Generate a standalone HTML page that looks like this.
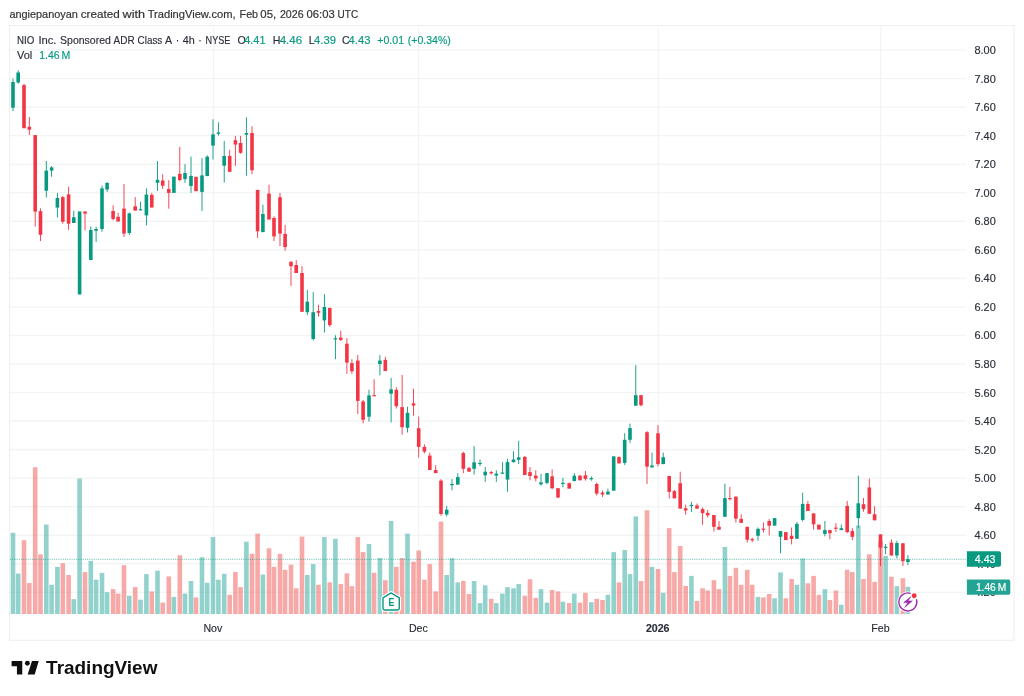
<!DOCTYPE html>
<html><head><meta charset="utf-8">
<style>
html,body{margin:0;padding:0;background:#fff;}
body{width:1024px;height:696px;overflow:hidden;position:relative;font-family:"Liberation Sans",Arial,sans-serif;}
svg{position:absolute;left:0;top:0;}
text{font-family:"Liberation Sans",Arial,sans-serif;}
</style></head><body>
<svg width="1024" height="696" viewBox="0 0 1024 696">
<rect x="0" y="0" width="1024" height="696" fill="#fff"/>
<g font-size="11.8" fill="#333" stroke="#333" stroke-width="0.2">
<text x="9.4" y="18.4" textLength="68.4" lengthAdjust="spacingAndGlyphs">angiepanoyan</text>
<text x="80.7" y="18.4" textLength="39.0" lengthAdjust="spacingAndGlyphs">created</text>
<text x="122.6" y="18.4" textLength="22.5" lengthAdjust="spacingAndGlyphs">with</text>
<text x="147.7" y="18.4" textLength="87.8" lengthAdjust="spacingAndGlyphs">TradingView.com,</text>
<text x="239.6" y="18.4" textLength="18.5" lengthAdjust="spacingAndGlyphs">Feb</text>
<text x="260.3" y="18.4" textLength="15.9" lengthAdjust="spacingAndGlyphs">05,</text>
<text x="279.9" y="18.4" textLength="23.7" lengthAdjust="spacingAndGlyphs">2026</text>
<text x="306.5" y="18.4" textLength="28.2" lengthAdjust="spacingAndGlyphs">06:03</text>
<text x="337.6" y="18.4" textLength="20.5" lengthAdjust="spacingAndGlyphs">UTC</text>
</g>
<rect x="9.5" y="25.5" width="1004.5" height="614.8" fill="#fff" stroke="#eeeeee" stroke-width="1.1"/>
<rect x="10" y="49.40" width="956" height="1.3" fill="#f2f4f4"/>
<rect x="10" y="77.94" width="956" height="1.3" fill="#f2f4f4"/>
<rect x="10" y="106.48" width="956" height="1.3" fill="#f2f4f4"/>
<rect x="10" y="135.02" width="956" height="1.3" fill="#f2f4f4"/>
<rect x="10" y="163.56" width="956" height="1.3" fill="#f2f4f4"/>
<rect x="10" y="192.10" width="956" height="1.3" fill="#f2f4f4"/>
<rect x="10" y="220.64" width="956" height="1.3" fill="#f2f4f4"/>
<rect x="10" y="249.18" width="956" height="1.3" fill="#f2f4f4"/>
<rect x="10" y="277.72" width="956" height="1.3" fill="#f2f4f4"/>
<rect x="10" y="306.26" width="956" height="1.3" fill="#f2f4f4"/>
<rect x="10" y="334.80" width="956" height="1.3" fill="#f2f4f4"/>
<rect x="10" y="363.34" width="956" height="1.3" fill="#f2f4f4"/>
<rect x="10" y="391.88" width="956" height="1.3" fill="#f2f4f4"/>
<rect x="10" y="420.42" width="956" height="1.3" fill="#f2f4f4"/>
<rect x="10" y="448.96" width="956" height="1.3" fill="#f2f4f4"/>
<rect x="10" y="477.50" width="956" height="1.3" fill="#f2f4f4"/>
<rect x="10" y="506.04" width="956" height="1.3" fill="#f2f4f4"/>
<rect x="10" y="534.58" width="956" height="1.3" fill="#f2f4f4"/>
<rect x="10" y="563.12" width="956" height="1.3" fill="#f2f4f4"/>
<rect x="10" y="591.66" width="956" height="1.3" fill="#f2f4f4"/>
<rect x="213.00" y="25.5" width="1.2" height="589.5" fill="#f2f4f4"/>
<rect x="418.00" y="25.5" width="1.2" height="589.5" fill="#f2f4f4"/>
<rect x="657.60" y="25.5" width="1.2" height="589.5" fill="#f2f4f4"/>
<rect x="880.10" y="25.5" width="1.2" height="589.5" fill="#f2f4f4"/>
<rect x="10.70" y="532.8" width="4.6" height="81.2" fill="rgba(38,166,154,0.5)"/>
<rect x="15.90" y="573.6" width="4.6" height="40.4" fill="rgba(38,166,154,0.5)"/>
<rect x="21.70" y="540.2" width="4.6" height="73.8" fill="rgba(239,83,80,0.5)"/>
<rect x="27.00" y="583.1" width="4.6" height="30.9" fill="rgba(239,83,80,0.5)"/>
<rect x="32.90" y="467.3" width="4.6" height="146.7" fill="rgba(239,83,80,0.5)"/>
<rect x="38.20" y="554.3" width="4.6" height="59.7" fill="rgba(239,83,80,0.5)"/>
<rect x="44.00" y="524.5" width="4.6" height="89.5" fill="rgba(38,166,154,0.5)"/>
<rect x="49.30" y="584.8" width="4.6" height="29.2" fill="rgba(38,166,154,0.5)"/>
<rect x="55.10" y="566.9" width="4.6" height="47.1" fill="rgba(38,166,154,0.5)"/>
<rect x="60.50" y="563.3" width="4.6" height="50.7" fill="rgba(239,83,80,0.5)"/>
<rect x="66.30" y="575.0" width="4.6" height="39.0" fill="rgba(239,83,80,0.5)"/>
<rect x="71.50" y="599.1" width="4.6" height="14.9" fill="rgba(38,166,154,0.5)"/>
<rect x="77.30" y="478.6" width="4.6" height="135.4" fill="rgba(38,166,154,0.5)"/>
<rect x="82.70" y="572.1" width="4.6" height="41.9" fill="rgba(239,83,80,0.5)"/>
<rect x="88.50" y="560.9" width="4.6" height="53.1" fill="rgba(38,166,154,0.5)"/>
<rect x="93.80" y="579.7" width="4.6" height="34.3" fill="rgba(38,166,154,0.5)"/>
<rect x="99.70" y="572.9" width="4.6" height="41.1" fill="rgba(38,166,154,0.5)"/>
<rect x="104.80" y="592.2" width="4.6" height="21.8" fill="rgba(38,166,154,0.5)"/>
<rect x="110.80" y="589.1" width="4.6" height="24.9" fill="rgba(239,83,80,0.5)"/>
<rect x="115.80" y="593.6" width="4.6" height="20.4" fill="rgba(239,83,80,0.5)"/>
<rect x="121.70" y="565.2" width="4.6" height="48.8" fill="rgba(239,83,80,0.5)"/>
<rect x="127.00" y="595.7" width="4.6" height="18.3" fill="rgba(38,166,154,0.5)"/>
<rect x="132.90" y="587.1" width="4.6" height="26.9" fill="rgba(239,83,80,0.5)"/>
<rect x="138.20" y="599.7" width="4.6" height="14.3" fill="rgba(38,166,154,0.5)"/>
<rect x="144.10" y="574.1" width="4.6" height="39.9" fill="rgba(38,166,154,0.5)"/>
<rect x="149.50" y="591.4" width="4.6" height="22.6" fill="rgba(239,83,80,0.5)"/>
<rect x="155.20" y="570.7" width="4.6" height="43.3" fill="rgba(38,166,154,0.5)"/>
<rect x="160.40" y="602.6" width="4.6" height="11.4" fill="rgba(239,83,80,0.5)"/>
<rect x="166.50" y="576.4" width="4.6" height="37.6" fill="rgba(239,83,80,0.5)"/>
<rect x="171.60" y="596.9" width="4.6" height="17.1" fill="rgba(38,166,154,0.5)"/>
<rect x="177.50" y="555.2" width="4.6" height="58.8" fill="rgba(239,83,80,0.5)"/>
<rect x="182.70" y="593.6" width="4.6" height="20.4" fill="rgba(38,166,154,0.5)"/>
<rect x="188.70" y="581.0" width="4.6" height="33.0" fill="rgba(38,166,154,0.5)"/>
<rect x="193.70" y="597.4" width="4.6" height="16.6" fill="rgba(239,83,80,0.5)"/>
<rect x="199.70" y="557.2" width="4.6" height="56.8" fill="rgba(38,166,154,0.5)"/>
<rect x="204.90" y="582.8" width="4.6" height="31.2" fill="rgba(38,166,154,0.5)"/>
<rect x="210.70" y="537.1" width="4.6" height="76.9" fill="rgba(38,166,154,0.5)"/>
<rect x="216.10" y="579.7" width="4.6" height="34.3" fill="rgba(38,166,154,0.5)"/>
<rect x="221.90" y="573.8" width="4.6" height="40.2" fill="rgba(38,166,154,0.5)"/>
<rect x="227.40" y="594.8" width="4.6" height="19.2" fill="rgba(239,83,80,0.5)"/>
<rect x="233.10" y="572.1" width="4.6" height="41.9" fill="rgba(239,83,80,0.5)"/>
<rect x="238.30" y="587.1" width="4.6" height="26.9" fill="rgba(239,83,80,0.5)"/>
<rect x="244.10" y="541.7" width="4.6" height="72.3" fill="rgba(38,166,154,0.5)"/>
<rect x="249.70" y="553.8" width="4.6" height="60.2" fill="rgba(239,83,80,0.5)"/>
<rect x="255.30" y="533.6" width="4.6" height="80.4" fill="rgba(239,83,80,0.5)"/>
<rect x="260.60" y="574.5" width="4.6" height="39.5" fill="rgba(38,166,154,0.5)"/>
<rect x="266.70" y="548.3" width="4.6" height="65.7" fill="rgba(239,83,80,0.5)"/>
<rect x="271.70" y="566.9" width="4.6" height="47.1" fill="rgba(239,83,80,0.5)"/>
<rect x="277.70" y="553.8" width="4.6" height="60.2" fill="rgba(239,83,80,0.5)"/>
<rect x="282.80" y="569.8" width="4.6" height="44.2" fill="rgba(239,83,80,0.5)"/>
<rect x="288.70" y="564.7" width="4.6" height="49.3" fill="rgba(239,83,80,0.5)"/>
<rect x="293.90" y="588.3" width="4.6" height="25.7" fill="rgba(239,83,80,0.5)"/>
<rect x="299.70" y="536.6" width="4.6" height="77.4" fill="rgba(239,83,80,0.5)"/>
<rect x="305.00" y="575.0" width="4.6" height="39.0" fill="rgba(38,166,154,0.5)"/>
<rect x="310.90" y="564.1" width="4.6" height="49.9" fill="rgba(38,166,154,0.5)"/>
<rect x="316.20" y="584.8" width="4.6" height="29.2" fill="rgba(239,83,80,0.5)"/>
<rect x="322.10" y="537.1" width="4.6" height="76.9" fill="rgba(38,166,154,0.5)"/>
<rect x="327.50" y="582.4" width="4.6" height="31.6" fill="rgba(239,83,80,0.5)"/>
<rect x="333.10" y="538.8" width="4.6" height="75.2" fill="rgba(38,166,154,0.5)"/>
<rect x="338.50" y="584.1" width="4.6" height="29.9" fill="rgba(239,83,80,0.5)"/>
<rect x="344.60" y="573.3" width="4.6" height="40.7" fill="rgba(239,83,80,0.5)"/>
<rect x="349.60" y="586.2" width="4.6" height="27.8" fill="rgba(239,83,80,0.5)"/>
<rect x="355.50" y="537.1" width="4.6" height="76.9" fill="rgba(239,83,80,0.5)"/>
<rect x="360.80" y="552.1" width="4.6" height="61.9" fill="rgba(239,83,80,0.5)"/>
<rect x="366.70" y="544.0" width="4.6" height="70.0" fill="rgba(38,166,154,0.5)"/>
<rect x="371.80" y="572.8" width="4.6" height="41.2" fill="rgba(239,83,80,0.5)"/>
<rect x="377.60" y="558.1" width="4.6" height="55.9" fill="rgba(38,166,154,0.5)"/>
<rect x="383.00" y="580.2" width="4.6" height="33.8" fill="rgba(239,83,80,0.5)"/>
<rect x="388.80" y="521.0" width="4.6" height="93.0" fill="rgba(38,166,154,0.5)"/>
<rect x="394.00" y="566.9" width="4.6" height="47.1" fill="rgba(239,83,80,0.5)"/>
<rect x="399.80" y="558.1" width="4.6" height="55.9" fill="rgba(239,83,80,0.5)"/>
<rect x="405.20" y="533.6" width="4.6" height="80.4" fill="rgba(38,166,154,0.5)"/>
<rect x="411.20" y="561.7" width="4.6" height="52.3" fill="rgba(239,83,80,0.5)"/>
<rect x="416.40" y="550.5" width="4.6" height="63.5" fill="rgba(239,83,80,0.5)"/>
<rect x="422.10" y="579.7" width="4.6" height="34.3" fill="rgba(239,83,80,0.5)"/>
<rect x="427.50" y="564.1" width="4.6" height="49.9" fill="rgba(239,83,80,0.5)"/>
<rect x="433.40" y="591.4" width="4.6" height="22.6" fill="rgba(239,83,80,0.5)"/>
<rect x="438.70" y="521.6" width="4.6" height="92.4" fill="rgba(239,83,80,0.5)"/>
<rect x="444.40" y="575.0" width="4.6" height="39.0" fill="rgba(38,166,154,0.5)"/>
<rect x="449.70" y="558.3" width="4.6" height="55.7" fill="rgba(38,166,154,0.5)"/>
<rect x="455.50" y="582.4" width="4.6" height="31.6" fill="rgba(38,166,154,0.5)"/>
<rect x="461.00" y="581.0" width="4.6" height="33.0" fill="rgba(239,83,80,0.5)"/>
<rect x="466.70" y="594.0" width="4.6" height="20.0" fill="rgba(239,83,80,0.5)"/>
<rect x="471.80" y="581.0" width="4.6" height="33.0" fill="rgba(38,166,154,0.5)"/>
<rect x="477.70" y="603.1" width="4.6" height="10.9" fill="rgba(38,166,154,0.5)"/>
<rect x="482.90" y="585.3" width="4.6" height="28.7" fill="rgba(38,166,154,0.5)"/>
<rect x="488.90" y="598.8" width="4.6" height="15.2" fill="rgba(239,83,80,0.5)"/>
<rect x="494.00" y="603.1" width="4.6" height="10.9" fill="rgba(38,166,154,0.5)"/>
<rect x="500.10" y="593.6" width="4.6" height="20.4" fill="rgba(38,166,154,0.5)"/>
<rect x="505.20" y="587.1" width="4.6" height="26.9" fill="rgba(38,166,154,0.5)"/>
<rect x="511.20" y="588.3" width="4.6" height="25.7" fill="rgba(38,166,154,0.5)"/>
<rect x="516.40" y="584.1" width="4.6" height="29.9" fill="rgba(38,166,154,0.5)"/>
<rect x="522.50" y="595.7" width="4.6" height="18.3" fill="rgba(239,83,80,0.5)"/>
<rect x="527.70" y="579.3" width="4.6" height="34.7" fill="rgba(239,83,80,0.5)"/>
<rect x="533.50" y="597.9" width="4.6" height="16.1" fill="rgba(239,83,80,0.5)"/>
<rect x="538.70" y="589.1" width="4.6" height="24.9" fill="rgba(38,166,154,0.5)"/>
<rect x="544.70" y="602.6" width="4.6" height="11.4" fill="rgba(38,166,154,0.5)"/>
<rect x="549.80" y="590.0" width="4.6" height="24.0" fill="rgba(239,83,80,0.5)"/>
<rect x="555.70" y="591.4" width="4.6" height="22.6" fill="rgba(239,83,80,0.5)"/>
<rect x="560.60" y="601.7" width="4.6" height="12.3" fill="rgba(38,166,154,0.5)"/>
<rect x="566.90" y="603.1" width="4.6" height="10.9" fill="rgba(239,83,80,0.5)"/>
<rect x="572.00" y="593.6" width="4.6" height="20.4" fill="rgba(38,166,154,0.5)"/>
<rect x="577.70" y="602.6" width="4.6" height="11.4" fill="rgba(239,83,80,0.5)"/>
<rect x="583.10" y="592.8" width="4.6" height="21.2" fill="rgba(239,83,80,0.5)"/>
<rect x="589.00" y="602.2" width="4.6" height="11.8" fill="rgba(38,166,154,0.5)"/>
<rect x="594.40" y="598.8" width="4.6" height="15.2" fill="rgba(239,83,80,0.5)"/>
<rect x="600.20" y="600.0" width="4.6" height="14.0" fill="rgba(239,83,80,0.5)"/>
<rect x="605.60" y="594.8" width="4.6" height="19.2" fill="rgba(38,166,154,0.5)"/>
<rect x="611.40" y="552.1" width="4.6" height="61.9" fill="rgba(38,166,154,0.5)"/>
<rect x="616.70" y="582.4" width="4.6" height="31.6" fill="rgba(239,83,80,0.5)"/>
<rect x="622.40" y="550.0" width="4.6" height="64.0" fill="rgba(38,166,154,0.5)"/>
<rect x="627.70" y="574.1" width="4.6" height="39.9" fill="rgba(38,166,154,0.5)"/>
<rect x="633.50" y="516.4" width="4.6" height="97.6" fill="rgba(38,166,154,0.5)"/>
<rect x="638.70" y="581.0" width="4.6" height="33.0" fill="rgba(239,83,80,0.5)"/>
<rect x="644.70" y="510.3" width="4.6" height="103.7" fill="rgba(239,83,80,0.5)"/>
<rect x="649.70" y="566.9" width="4.6" height="47.1" fill="rgba(38,166,154,0.5)"/>
<rect x="655.70" y="569.0" width="4.6" height="45.0" fill="rgba(239,83,80,0.5)"/>
<rect x="660.90" y="592.8" width="4.6" height="21.2" fill="rgba(38,166,154,0.5)"/>
<rect x="666.90" y="528.1" width="4.6" height="85.9" fill="rgba(239,83,80,0.5)"/>
<rect x="672.10" y="572.1" width="4.6" height="41.9" fill="rgba(239,83,80,0.5)"/>
<rect x="677.90" y="546.0" width="4.6" height="68.0" fill="rgba(239,83,80,0.5)"/>
<rect x="683.40" y="585.9" width="4.6" height="28.1" fill="rgba(239,83,80,0.5)"/>
<rect x="689.10" y="575.9" width="4.6" height="38.1" fill="rgba(38,166,154,0.5)"/>
<rect x="694.70" y="600.9" width="4.6" height="13.1" fill="rgba(239,83,80,0.5)"/>
<rect x="700.30" y="588.3" width="4.6" height="25.7" fill="rgba(239,83,80,0.5)"/>
<rect x="705.40" y="590.5" width="4.6" height="23.5" fill="rgba(239,83,80,0.5)"/>
<rect x="711.60" y="580.2" width="4.6" height="33.8" fill="rgba(239,83,80,0.5)"/>
<rect x="716.70" y="589.1" width="4.6" height="24.9" fill="rgba(239,83,80,0.5)"/>
<rect x="722.60" y="546.9" width="4.6" height="67.1" fill="rgba(38,166,154,0.5)"/>
<rect x="727.60" y="575.9" width="4.6" height="38.1" fill="rgba(239,83,80,0.5)"/>
<rect x="733.60" y="567.8" width="4.6" height="46.2" fill="rgba(239,83,80,0.5)"/>
<rect x="738.90" y="584.8" width="4.6" height="29.2" fill="rgba(239,83,80,0.5)"/>
<rect x="744.90" y="569.8" width="4.6" height="44.2" fill="rgba(239,83,80,0.5)"/>
<rect x="749.90" y="584.8" width="4.6" height="29.2" fill="rgba(239,83,80,0.5)"/>
<rect x="755.70" y="596.9" width="4.6" height="17.1" fill="rgba(38,166,154,0.5)"/>
<rect x="761.10" y="597.4" width="4.6" height="16.6" fill="rgba(239,83,80,0.5)"/>
<rect x="766.90" y="594.0" width="4.6" height="20.0" fill="rgba(239,83,80,0.5)"/>
<rect x="772.30" y="598.3" width="4.6" height="15.7" fill="rgba(38,166,154,0.5)"/>
<rect x="778.20" y="572.4" width="4.6" height="41.6" fill="rgba(38,166,154,0.5)"/>
<rect x="783.50" y="598.3" width="4.6" height="15.7" fill="rgba(239,83,80,0.5)"/>
<rect x="789.30" y="579.0" width="4.6" height="35.0" fill="rgba(239,83,80,0.5)"/>
<rect x="794.60" y="584.8" width="4.6" height="29.2" fill="rgba(38,166,154,0.5)"/>
<rect x="800.40" y="558.5" width="4.6" height="55.5" fill="rgba(38,166,154,0.5)"/>
<rect x="805.60" y="583.3" width="4.6" height="30.7" fill="rgba(239,83,80,0.5)"/>
<rect x="811.30" y="575.9" width="4.6" height="38.1" fill="rgba(239,83,80,0.5)"/>
<rect x="816.60" y="594.8" width="4.6" height="19.2" fill="rgba(239,83,80,0.5)"/>
<rect x="822.60" y="589.1" width="4.6" height="24.9" fill="rgba(38,166,154,0.5)"/>
<rect x="827.60" y="600.0" width="4.6" height="14.0" fill="rgba(239,83,80,0.5)"/>
<rect x="833.60" y="590.5" width="4.6" height="23.5" fill="rgba(239,83,80,0.5)"/>
<rect x="839.00" y="604.8" width="4.6" height="9.2" fill="rgba(38,166,154,0.5)"/>
<rect x="844.90" y="569.8" width="4.6" height="44.2" fill="rgba(239,83,80,0.5)"/>
<rect x="850.00" y="572.1" width="4.6" height="41.9" fill="rgba(239,83,80,0.5)"/>
<rect x="856.00" y="525.5" width="4.6" height="88.5" fill="rgba(38,166,154,0.5)"/>
<rect x="861.20" y="579.0" width="4.6" height="35.0" fill="rgba(239,83,80,0.5)"/>
<rect x="867.00" y="554.3" width="4.6" height="59.7" fill="rgba(239,83,80,0.5)"/>
<rect x="872.30" y="581.9" width="4.6" height="32.1" fill="rgba(239,83,80,0.5)"/>
<rect x="878.20" y="541.5" width="4.6" height="72.5" fill="rgba(239,83,80,0.5)"/>
<rect x="883.30" y="555.9" width="4.6" height="58.1" fill="rgba(38,166,154,0.5)"/>
<rect x="889.10" y="576.8" width="4.6" height="37.2" fill="rgba(239,83,80,0.5)"/>
<rect x="894.60" y="586.1" width="4.6" height="27.9" fill="rgba(38,166,154,0.5)"/>
<rect x="900.60" y="578.2" width="4.6" height="35.8" fill="rgba(239,83,80,0.5)"/>
<rect x="905.60" y="586.8" width="4.6" height="27.2" fill="rgba(38,166,154,0.5)"/>
<line x1="10" y1="559.3" x2="966" y2="559.3" stroke="#089981" stroke-opacity="0.6" stroke-width="1" stroke-dasharray="1.1 1.1"/>
<rect x="12.55" y="78.6" width="0.9" height="32.4" fill="#089981"/>
<rect x="11.20" y="82.0" width="3.6" height="25.7" fill="#089981"/>
<rect x="17.75" y="70.3" width="0.9" height="13.4" fill="#089981"/>
<rect x="16.40" y="72.5" width="3.6" height="10.0" fill="#089981"/>
<rect x="23.55" y="83.7" width="0.9" height="44.5" fill="#f23645"/>
<rect x="22.20" y="85.1" width="3.6" height="43.1" fill="#f23645"/>
<rect x="28.85" y="117.0" width="0.9" height="18.0" fill="#f23645"/>
<rect x="27.50" y="126.8" width="3.6" height="2.9" fill="#f23645"/>
<rect x="34.75" y="135.0" width="0.9" height="91.6" fill="#f23645"/>
<rect x="33.40" y="135.1" width="3.6" height="76.5" fill="#f23645"/>
<rect x="40.05" y="208.4" width="0.9" height="32.6" fill="#f23645"/>
<rect x="38.70" y="211.2" width="3.6" height="23.6" fill="#f23645"/>
<rect x="45.85" y="161.0" width="0.9" height="36.6" fill="#089981"/>
<rect x="44.50" y="170.6" width="3.6" height="20.1" fill="#089981"/>
<rect x="51.15" y="166.0" width="0.9" height="10.8" fill="#089981"/>
<rect x="49.80" y="167.4" width="3.6" height="3.2" fill="#089981"/>
<rect x="56.95" y="193.0" width="0.9" height="24.5" fill="#089981"/>
<rect x="55.60" y="198.0" width="3.6" height="9.6" fill="#089981"/>
<rect x="62.35" y="195.9" width="0.9" height="27.8" fill="#f23645"/>
<rect x="61.00" y="197.2" width="3.6" height="24.6" fill="#f23645"/>
<rect x="68.15" y="186.8" width="0.9" height="43.1" fill="#f23645"/>
<rect x="66.80" y="194.4" width="3.6" height="29.3" fill="#f23645"/>
<rect x="73.35" y="210.8" width="0.9" height="12.2" fill="#089981"/>
<rect x="72.00" y="217.3" width="3.6" height="5.7" fill="#089981"/>
<rect x="77.80" y="211.4" width="3.6" height="83.1" fill="#089981"/>
<rect x="84.55" y="211.4" width="0.9" height="19.1" fill="#f23645"/>
<rect x="83.20" y="211.5" width="3.6" height="2.1" fill="#f23645"/>
<rect x="90.35" y="226.4" width="0.9" height="33.6" fill="#089981"/>
<rect x="89.00" y="230.0" width="3.6" height="30.0" fill="#089981"/>
<rect x="95.65" y="226.8" width="0.9" height="15.1" fill="#089981"/>
<rect x="94.30" y="229.0" width="3.6" height="1.7" fill="#089981"/>
<rect x="101.55" y="185.6" width="0.9" height="46.2" fill="#089981"/>
<rect x="100.20" y="188.4" width="3.6" height="40.6" fill="#089981"/>
<rect x="106.65" y="181.8" width="0.9" height="10.1" fill="#089981"/>
<rect x="105.30" y="183.0" width="3.6" height="6.5" fill="#089981"/>
<rect x="112.65" y="205.3" width="0.9" height="15.0" fill="#f23645"/>
<rect x="111.30" y="211.0" width="3.6" height="7.9" fill="#f23645"/>
<rect x="117.65" y="212.9" width="0.9" height="8.6" fill="#f23645"/>
<rect x="116.30" y="216.8" width="3.6" height="4.7" fill="#f23645"/>
<rect x="123.55" y="184.1" width="0.9" height="52.8" fill="#f23645"/>
<rect x="122.20" y="208.6" width="3.6" height="25.0" fill="#f23645"/>
<rect x="128.85" y="212.4" width="0.9" height="22.6" fill="#089981"/>
<rect x="127.50" y="213.4" width="3.6" height="19.6" fill="#089981"/>
<rect x="134.75" y="197.1" width="0.9" height="13.5" fill="#f23645"/>
<rect x="133.40" y="206.3" width="3.6" height="4.3" fill="#f23645"/>
<rect x="140.05" y="201.7" width="0.9" height="8.6" fill="#089981"/>
<rect x="138.70" y="209.2" width="3.6" height="1.2" fill="#089981"/>
<rect x="145.95" y="188.4" width="0.9" height="37.1" fill="#089981"/>
<rect x="144.60" y="194.6" width="3.6" height="20.8" fill="#089981"/>
<rect x="151.35" y="192.9" width="0.9" height="14.6" fill="#f23645"/>
<rect x="150.00" y="194.9" width="3.6" height="12.6" fill="#f23645"/>
<rect x="157.05" y="161.1" width="0.9" height="29.9" fill="#089981"/>
<rect x="155.70" y="179.8" width="3.6" height="3.0" fill="#089981"/>
<rect x="162.25" y="174.2" width="0.9" height="14.7" fill="#f23645"/>
<rect x="160.90" y="180.5" width="3.6" height="5.2" fill="#f23645"/>
<rect x="168.35" y="180.2" width="0.9" height="28.5" fill="#f23645"/>
<rect x="167.00" y="189.1" width="3.6" height="3.8" fill="#f23645"/>
<rect x="172.10" y="176.6" width="3.6" height="16.3" fill="#089981"/>
<rect x="179.35" y="146.9" width="0.9" height="34.5" fill="#f23645"/>
<rect x="178.00" y="173.8" width="3.6" height="6.2" fill="#f23645"/>
<rect x="184.55" y="164.1" width="0.9" height="18.7" fill="#089981"/>
<rect x="183.20" y="173.0" width="3.6" height="6.1" fill="#089981"/>
<rect x="190.55" y="156.5" width="0.9" height="36.4" fill="#089981"/>
<rect x="189.20" y="175.9" width="3.6" height="10.1" fill="#089981"/>
<rect x="194.20" y="176.8" width="3.6" height="14.4" fill="#f23645"/>
<rect x="201.55" y="158.1" width="0.9" height="52.9" fill="#089981"/>
<rect x="200.20" y="175.4" width="3.6" height="16.5" fill="#089981"/>
<rect x="206.75" y="155.3" width="0.9" height="20.8" fill="#089981"/>
<rect x="205.40" y="156.7" width="3.6" height="19.4" fill="#089981"/>
<rect x="212.55" y="119.3" width="0.9" height="40.3" fill="#089981"/>
<rect x="211.20" y="134.4" width="3.6" height="11.2" fill="#089981"/>
<rect x="217.95" y="122.2" width="0.9" height="13.4" fill="#089981"/>
<rect x="216.60" y="132.5" width="3.6" height="1.3" fill="#089981"/>
<rect x="223.75" y="140.9" width="0.9" height="41.7" fill="#089981"/>
<rect x="222.40" y="156.0" width="3.6" height="9.7" fill="#089981"/>
<rect x="229.25" y="149.9" width="0.9" height="21.9" fill="#f23645"/>
<rect x="227.90" y="156.0" width="3.6" height="15.8" fill="#f23645"/>
<rect x="234.95" y="135.9" width="0.9" height="30.1" fill="#f23645"/>
<rect x="233.60" y="140.2" width="3.6" height="4.3" fill="#f23645"/>
<rect x="240.15" y="135.9" width="0.9" height="17.9" fill="#f23645"/>
<rect x="238.80" y="143.0" width="3.6" height="9.8" fill="#f23645"/>
<rect x="245.95" y="117.2" width="0.9" height="58.5" fill="#089981"/>
<rect x="244.60" y="133.0" width="3.6" height="1.7" fill="#089981"/>
<rect x="251.55" y="126.2" width="0.9" height="48.0" fill="#f23645"/>
<rect x="250.20" y="133.0" width="3.6" height="37.3" fill="#f23645"/>
<rect x="257.15" y="189.7" width="0.9" height="48.2" fill="#f23645"/>
<rect x="255.80" y="190.0" width="3.6" height="41.3" fill="#f23645"/>
<rect x="262.45" y="204.8" width="0.9" height="27.3" fill="#089981"/>
<rect x="261.10" y="214.0" width="3.6" height="18.1" fill="#089981"/>
<rect x="268.55" y="184.7" width="0.9" height="34.8" fill="#f23645"/>
<rect x="267.20" y="193.6" width="3.6" height="25.9" fill="#f23645"/>
<rect x="273.55" y="216.3" width="0.9" height="24.7" fill="#f23645"/>
<rect x="272.20" y="218.0" width="3.6" height="18.4" fill="#f23645"/>
<rect x="279.55" y="192.9" width="0.9" height="53.2" fill="#f23645"/>
<rect x="278.20" y="197.2" width="3.6" height="36.4" fill="#f23645"/>
<rect x="284.65" y="225.0" width="0.9" height="25.8" fill="#f23645"/>
<rect x="283.30" y="233.9" width="3.6" height="13.2" fill="#f23645"/>
<rect x="290.55" y="261.7" width="0.9" height="24.2" fill="#f23645"/>
<rect x="289.20" y="261.7" width="3.6" height="4.5" fill="#f23645"/>
<rect x="295.75" y="260.2" width="0.9" height="12.8" fill="#f23645"/>
<rect x="294.40" y="265.0" width="3.6" height="8.0" fill="#f23645"/>
<rect x="301.55" y="266.2" width="0.9" height="45.6" fill="#f23645"/>
<rect x="300.20" y="273.0" width="3.6" height="38.8" fill="#f23645"/>
<rect x="306.85" y="289.8" width="0.9" height="25.3" fill="#089981"/>
<rect x="305.50" y="301.7" width="3.6" height="10.5" fill="#089981"/>
<rect x="312.75" y="292.1" width="0.9" height="48.4" fill="#089981"/>
<rect x="311.40" y="312.2" width="3.6" height="26.8" fill="#089981"/>
<rect x="318.05" y="304.6" width="0.9" height="12.2" fill="#f23645"/>
<rect x="316.70" y="311.0" width="3.6" height="1.8" fill="#f23645"/>
<rect x="323.95" y="294.1" width="0.9" height="38.5" fill="#089981"/>
<rect x="322.60" y="307.0" width="3.6" height="13.4" fill="#089981"/>
<rect x="329.35" y="307.9" width="0.9" height="18.9" fill="#f23645"/>
<rect x="328.00" y="307.9" width="3.6" height="17.2" fill="#f23645"/>
<rect x="334.95" y="335.2" width="0.9" height="24.0" fill="#089981"/>
<rect x="333.60" y="338.2" width="3.6" height="1.2" fill="#089981"/>
<rect x="340.35" y="330.9" width="0.9" height="10.2" fill="#f23645"/>
<rect x="339.00" y="337.6" width="3.6" height="2.3" fill="#f23645"/>
<rect x="346.45" y="338.2" width="0.9" height="35.7" fill="#f23645"/>
<rect x="345.10" y="343.7" width="3.6" height="18.9" fill="#f23645"/>
<rect x="351.45" y="359.2" width="0.9" height="14.7" fill="#f23645"/>
<rect x="350.10" y="363.1" width="3.6" height="8.2" fill="#f23645"/>
<rect x="357.35" y="354.9" width="0.9" height="59.2" fill="#f23645"/>
<rect x="356.00" y="360.6" width="3.6" height="40.3" fill="#f23645"/>
<rect x="362.65" y="400.0" width="0.9" height="23.4" fill="#f23645"/>
<rect x="361.30" y="401.4" width="3.6" height="18.4" fill="#f23645"/>
<rect x="368.55" y="389.7" width="0.9" height="31.9" fill="#089981"/>
<rect x="367.20" y="395.4" width="3.6" height="21.3" fill="#089981"/>
<rect x="373.65" y="379.3" width="0.9" height="16.9" fill="#f23645"/>
<rect x="372.30" y="395.1" width="3.6" height="1.2" fill="#f23645"/>
<rect x="379.45" y="355.2" width="0.9" height="20.1" fill="#089981"/>
<rect x="378.10" y="360.6" width="3.6" height="3.5" fill="#089981"/>
<rect x="384.85" y="356.9" width="0.9" height="14.1" fill="#f23645"/>
<rect x="383.50" y="359.9" width="3.6" height="11.1" fill="#f23645"/>
<rect x="390.65" y="377.9" width="0.9" height="44.5" fill="#089981"/>
<rect x="389.30" y="389.4" width="3.6" height="4.3" fill="#089981"/>
<rect x="395.85" y="387.2" width="0.9" height="21.3" fill="#f23645"/>
<rect x="394.50" y="389.8" width="3.6" height="16.4" fill="#f23645"/>
<rect x="401.65" y="375.0" width="0.9" height="59.7" fill="#f23645"/>
<rect x="400.30" y="407.1" width="3.6" height="20.1" fill="#f23645"/>
<rect x="407.05" y="406.6" width="0.9" height="25.9" fill="#089981"/>
<rect x="405.70" y="412.8" width="3.6" height="15.0" fill="#089981"/>
<rect x="413.05" y="388.7" width="0.9" height="27.0" fill="#f23645"/>
<rect x="411.70" y="403.3" width="3.6" height="2.3" fill="#f23645"/>
<rect x="418.25" y="416.7" width="0.9" height="40.9" fill="#f23645"/>
<rect x="416.90" y="428.2" width="3.6" height="18.7" fill="#f23645"/>
<rect x="423.95" y="444.4" width="0.9" height="8.9" fill="#f23645"/>
<rect x="422.60" y="446.9" width="3.6" height="4.7" fill="#f23645"/>
<rect x="429.35" y="452.7" width="0.9" height="17.3" fill="#f23645"/>
<rect x="428.00" y="455.6" width="3.6" height="14.4" fill="#f23645"/>
<rect x="435.25" y="465.2" width="0.9" height="7.9" fill="#f23645"/>
<rect x="433.90" y="470.0" width="3.6" height="3.1" fill="#f23645"/>
<rect x="440.55" y="479.1" width="0.9" height="36.8" fill="#f23645"/>
<rect x="439.20" y="480.6" width="3.6" height="33.4" fill="#f23645"/>
<rect x="446.25" y="505.9" width="0.9" height="10.6" fill="#089981"/>
<rect x="444.90" y="509.7" width="3.6" height="4.8" fill="#089981"/>
<rect x="451.55" y="479.1" width="0.9" height="11.2" fill="#089981"/>
<rect x="450.20" y="484.0" width="3.6" height="1.2" fill="#089981"/>
<rect x="457.35" y="473.1" width="0.9" height="11.5" fill="#089981"/>
<rect x="456.00" y="477.1" width="3.6" height="7.5" fill="#089981"/>
<rect x="462.85" y="451.8" width="0.9" height="21.3" fill="#f23645"/>
<rect x="461.50" y="453.0" width="3.6" height="15.8" fill="#f23645"/>
<rect x="468.55" y="466.6" width="0.9" height="5.1" fill="#f23645"/>
<rect x="467.20" y="468.1" width="3.6" height="3.6" fill="#f23645"/>
<rect x="473.65" y="446.1" width="0.9" height="28.4" fill="#089981"/>
<rect x="472.30" y="462.3" width="3.6" height="6.5" fill="#089981"/>
<rect x="479.55" y="459.5" width="0.9" height="6.5" fill="#089981"/>
<rect x="478.20" y="462.9" width="3.6" height="1.2" fill="#089981"/>
<rect x="484.75" y="467.0" width="0.9" height="14.8" fill="#089981"/>
<rect x="483.40" y="471.7" width="3.6" height="3.6" fill="#089981"/>
<rect x="490.75" y="471.0" width="0.9" height="3.6" fill="#f23645"/>
<rect x="489.40" y="472.1" width="3.6" height="1.2" fill="#f23645"/>
<rect x="495.85" y="470.3" width="0.9" height="11.5" fill="#089981"/>
<rect x="494.50" y="473.6" width="3.6" height="2.0" fill="#089981"/>
<rect x="501.95" y="462.1" width="0.9" height="11.5" fill="#089981"/>
<rect x="500.60" y="472.5" width="3.6" height="1.2" fill="#089981"/>
<rect x="507.05" y="458.8" width="0.9" height="33.0" fill="#089981"/>
<rect x="505.70" y="462.1" width="3.6" height="17.5" fill="#089981"/>
<rect x="513.05" y="451.1" width="0.9" height="11.5" fill="#089981"/>
<rect x="511.70" y="459.5" width="3.6" height="2.6" fill="#089981"/>
<rect x="518.25" y="440.8" width="0.9" height="23.3" fill="#089981"/>
<rect x="516.90" y="457.3" width="3.6" height="2.5" fill="#089981"/>
<rect x="524.35" y="455.9" width="0.9" height="19.1" fill="#f23645"/>
<rect x="523.00" y="456.9" width="3.6" height="18.1" fill="#f23645"/>
<rect x="529.55" y="467.0" width="0.9" height="13.3" fill="#f23645"/>
<rect x="528.20" y="472.1" width="3.6" height="3.9" fill="#f23645"/>
<rect x="535.35" y="470.2" width="0.9" height="11.2" fill="#f23645"/>
<rect x="534.00" y="475.6" width="3.6" height="2.8" fill="#f23645"/>
<rect x="540.55" y="473.8" width="0.9" height="11.9" fill="#089981"/>
<rect x="539.20" y="482.4" width="3.6" height="1.9" fill="#089981"/>
<rect x="546.55" y="473.1" width="0.9" height="11.2" fill="#089981"/>
<rect x="545.20" y="473.1" width="3.6" height="9.8" fill="#089981"/>
<rect x="551.65" y="469.5" width="0.9" height="19.7" fill="#f23645"/>
<rect x="550.30" y="476.3" width="3.6" height="11.9" fill="#f23645"/>
<rect x="557.55" y="488.2" width="0.9" height="10.0" fill="#f23645"/>
<rect x="556.20" y="488.2" width="3.6" height="9.3" fill="#f23645"/>
<rect x="562.45" y="477.7" width="0.9" height="9.5" fill="#089981"/>
<rect x="561.10" y="482.8" width="3.6" height="1.2" fill="#089981"/>
<rect x="568.75" y="482.4" width="0.9" height="6.2" fill="#f23645"/>
<rect x="567.40" y="483.2" width="3.6" height="5.4" fill="#f23645"/>
<rect x="573.85" y="473.1" width="0.9" height="8.3" fill="#089981"/>
<rect x="572.50" y="475.7" width="3.6" height="5.3" fill="#089981"/>
<rect x="579.55" y="474.8" width="0.9" height="5.5" fill="#f23645"/>
<rect x="578.20" y="475.7" width="3.6" height="4.6" fill="#f23645"/>
<rect x="584.95" y="471.0" width="0.9" height="9.6" fill="#f23645"/>
<rect x="583.60" y="475.3" width="3.6" height="3.6" fill="#f23645"/>
<rect x="590.85" y="476.4" width="0.9" height="4.3" fill="#089981"/>
<rect x="589.50" y="478.1" width="3.6" height="1.2" fill="#089981"/>
<rect x="596.25" y="482.6" width="0.9" height="12.9" fill="#f23645"/>
<rect x="594.90" y="484.0" width="3.6" height="9.6" fill="#f23645"/>
<rect x="602.05" y="490.5" width="0.9" height="6.4" fill="#f23645"/>
<rect x="600.70" y="492.6" width="3.6" height="1.9" fill="#f23645"/>
<rect x="607.45" y="488.7" width="0.9" height="5.8" fill="#089981"/>
<rect x="606.10" y="491.6" width="3.6" height="2.9" fill="#089981"/>
<rect x="611.90" y="456.3" width="3.6" height="34.4" fill="#089981"/>
<rect x="618.55" y="456.3" width="0.9" height="7.1" fill="#f23645"/>
<rect x="617.20" y="457.1" width="3.6" height="6.3" fill="#f23645"/>
<rect x="624.25" y="433.2" width="0.9" height="31.7" fill="#089981"/>
<rect x="622.90" y="439.8" width="3.6" height="23.1" fill="#089981"/>
<rect x="629.55" y="423.6" width="0.9" height="19.3" fill="#089981"/>
<rect x="628.20" y="428.1" width="3.6" height="11.7" fill="#089981"/>
<rect x="635.35" y="365.0" width="0.9" height="40.7" fill="#089981"/>
<rect x="634.00" y="395.2" width="3.6" height="10.5" fill="#089981"/>
<rect x="640.55" y="395.2" width="0.9" height="11.1" fill="#f23645"/>
<rect x="639.20" y="395.2" width="3.6" height="10.1" fill="#f23645"/>
<rect x="646.55" y="431.1" width="0.9" height="52.8" fill="#f23645"/>
<rect x="645.20" y="432.2" width="3.6" height="34.5" fill="#f23645"/>
<rect x="651.55" y="452.6" width="0.9" height="14.8" fill="#089981"/>
<rect x="650.20" y="465.5" width="3.6" height="1.9" fill="#089981"/>
<rect x="657.55" y="425.0" width="0.9" height="41.4" fill="#f23645"/>
<rect x="656.20" y="433.3" width="3.6" height="30.8" fill="#f23645"/>
<rect x="662.75" y="452.6" width="0.9" height="11.5" fill="#089981"/>
<rect x="661.40" y="457.2" width="3.6" height="6.9" fill="#089981"/>
<rect x="668.75" y="476.0" width="0.9" height="22.6" fill="#f23645"/>
<rect x="667.40" y="476.0" width="3.6" height="15.8" fill="#f23645"/>
<rect x="673.95" y="490.0" width="0.9" height="8.3" fill="#f23645"/>
<rect x="672.60" y="491.1" width="3.6" height="7.2" fill="#f23645"/>
<rect x="679.75" y="471.7" width="0.9" height="36.9" fill="#f23645"/>
<rect x="678.40" y="483.2" width="3.6" height="25.4" fill="#f23645"/>
<rect x="685.25" y="504.7" width="0.9" height="10.1" fill="#f23645"/>
<rect x="683.90" y="508.3" width="3.6" height="2.2" fill="#f23645"/>
<rect x="690.95" y="501.9" width="0.9" height="10.0" fill="#089981"/>
<rect x="689.60" y="504.9" width="3.6" height="1.2" fill="#089981"/>
<rect x="696.55" y="503.5" width="0.9" height="5.2" fill="#f23645"/>
<rect x="695.20" y="505.4" width="3.6" height="3.3" fill="#f23645"/>
<rect x="702.15" y="507.4" width="0.9" height="17.3" fill="#f23645"/>
<rect x="700.80" y="509.1" width="3.6" height="4.1" fill="#f23645"/>
<rect x="707.25" y="510.0" width="0.9" height="7.5" fill="#f23645"/>
<rect x="705.90" y="512.9" width="3.6" height="2.4" fill="#f23645"/>
<rect x="713.45" y="515.0" width="0.9" height="16.6" fill="#f23645"/>
<rect x="712.10" y="515.0" width="3.6" height="11.8" fill="#f23645"/>
<rect x="718.55" y="521.1" width="0.9" height="8.6" fill="#f23645"/>
<rect x="717.20" y="526.8" width="3.6" height="2.9" fill="#f23645"/>
<rect x="724.45" y="483.7" width="0.9" height="33.1" fill="#089981"/>
<rect x="723.10" y="498.1" width="3.6" height="18.7" fill="#089981"/>
<rect x="729.45" y="487.0" width="0.9" height="13.5" fill="#f23645"/>
<rect x="728.10" y="498.0" width="3.6" height="1.2" fill="#f23645"/>
<rect x="735.45" y="496.6" width="0.9" height="25.9" fill="#f23645"/>
<rect x="734.10" y="496.6" width="3.6" height="22.0" fill="#f23645"/>
<rect x="740.75" y="514.3" width="0.9" height="8.6" fill="#f23645"/>
<rect x="739.40" y="518.9" width="3.6" height="4.0" fill="#f23645"/>
<rect x="746.75" y="526.8" width="0.9" height="15.8" fill="#f23645"/>
<rect x="745.40" y="526.8" width="3.6" height="12.9" fill="#f23645"/>
<rect x="751.75" y="537.7" width="0.9" height="4.5" fill="#f23645"/>
<rect x="750.40" y="539.1" width="3.6" height="1.2" fill="#f23645"/>
<rect x="757.55" y="527.5" width="0.9" height="13.2" fill="#089981"/>
<rect x="756.20" y="528.9" width="3.6" height="6.9" fill="#089981"/>
<rect x="762.95" y="522.4" width="0.9" height="10.1" fill="#f23645"/>
<rect x="761.60" y="528.6" width="3.6" height="1.2" fill="#f23645"/>
<rect x="768.75" y="519.1" width="0.9" height="16.3" fill="#f23645"/>
<rect x="767.40" y="521.0" width="3.6" height="4.7" fill="#f23645"/>
<rect x="772.80" y="518.1" width="3.6" height="7.6" fill="#089981"/>
<rect x="780.05" y="531.1" width="0.9" height="22.2" fill="#089981"/>
<rect x="778.70" y="531.1" width="3.6" height="5.7" fill="#089981"/>
<rect x="784.00" y="532.1" width="3.6" height="8.0" fill="#f23645"/>
<rect x="791.15" y="527.5" width="0.9" height="16.9" fill="#f23645"/>
<rect x="789.80" y="535.8" width="3.6" height="3.2" fill="#f23645"/>
<rect x="796.45" y="522.0" width="0.9" height="16.7" fill="#089981"/>
<rect x="795.10" y="523.9" width="3.6" height="14.8" fill="#089981"/>
<rect x="802.25" y="492.7" width="0.9" height="28.7" fill="#089981"/>
<rect x="800.90" y="503.9" width="3.6" height="16.0" fill="#089981"/>
<rect x="807.45" y="500.9" width="0.9" height="10.1" fill="#f23645"/>
<rect x="806.10" y="504.0" width="3.6" height="7.0" fill="#f23645"/>
<rect x="813.15" y="513.4" width="0.9" height="16.2" fill="#f23645"/>
<rect x="811.80" y="513.4" width="3.6" height="10.9" fill="#f23645"/>
<rect x="817.10" y="524.6" width="3.6" height="5.0" fill="#f23645"/>
<rect x="824.45" y="521.0" width="0.9" height="15.4" fill="#089981"/>
<rect x="823.10" y="530.1" width="3.6" height="3.8" fill="#089981"/>
<rect x="829.45" y="530.1" width="0.9" height="9.2" fill="#f23645"/>
<rect x="828.10" y="530.1" width="3.6" height="3.1" fill="#f23645"/>
<rect x="835.45" y="523.2" width="0.9" height="8.6" fill="#f23645"/>
<rect x="834.10" y="527.6" width="3.6" height="1.2" fill="#f23645"/>
<rect x="840.85" y="524.6" width="0.9" height="5.5" fill="#089981"/>
<rect x="839.50" y="528.2" width="3.6" height="1.9" fill="#089981"/>
<rect x="846.75" y="500.9" width="0.9" height="32.3" fill="#f23645"/>
<rect x="845.40" y="505.9" width="3.6" height="26.2" fill="#f23645"/>
<rect x="851.85" y="528.2" width="0.9" height="11.9" fill="#f23645"/>
<rect x="850.50" y="531.1" width="3.6" height="5.7" fill="#f23645"/>
<rect x="857.85" y="475.7" width="0.9" height="52.5" fill="#089981"/>
<rect x="856.50" y="503.3" width="3.6" height="14.8" fill="#089981"/>
<rect x="863.05" y="498.0" width="0.9" height="13.7" fill="#f23645"/>
<rect x="861.70" y="504.2" width="3.6" height="4.9" fill="#f23645"/>
<rect x="868.85" y="478.6" width="0.9" height="35.2" fill="#f23645"/>
<rect x="867.50" y="487.5" width="3.6" height="26.3" fill="#f23645"/>
<rect x="874.15" y="506.2" width="0.9" height="14.1" fill="#f23645"/>
<rect x="872.80" y="514.3" width="3.6" height="6.0" fill="#f23645"/>
<rect x="880.05" y="534.4" width="0.9" height="31.6" fill="#f23645"/>
<rect x="878.70" y="534.4" width="3.6" height="13.2" fill="#f23645"/>
<rect x="885.15" y="544.0" width="0.9" height="10.1" fill="#089981"/>
<rect x="883.80" y="546.7" width="3.6" height="1.2" fill="#089981"/>
<rect x="890.95" y="539.3" width="0.9" height="16.2" fill="#f23645"/>
<rect x="889.60" y="542.6" width="3.6" height="12.9" fill="#f23645"/>
<rect x="896.45" y="540.7" width="0.9" height="17.7" fill="#089981"/>
<rect x="895.10" y="543.0" width="3.6" height="12.5" fill="#089981"/>
<rect x="902.45" y="543.3" width="0.9" height="22.7" fill="#f23645"/>
<rect x="901.10" y="543.3" width="3.6" height="17.9" fill="#f23645"/>
<rect x="907.45" y="555.1" width="0.9" height="10.0" fill="#089981"/>
<rect x="906.10" y="559.1" width="3.6" height="2.9" fill="#089981"/>
<g font-size="10.6" fill="#2a2e39" stroke="#2a2e39" stroke-width="0.15"><text x="974.5" y="54.0" textLength="21.3" lengthAdjust="spacingAndGlyphs">8.00</text>
<text x="974.5" y="82.5" textLength="21.3" lengthAdjust="spacingAndGlyphs">7.80</text>
<text x="974.5" y="111.1" textLength="21.3" lengthAdjust="spacingAndGlyphs">7.60</text>
<text x="974.5" y="139.6" textLength="21.3" lengthAdjust="spacingAndGlyphs">7.40</text>
<text x="974.5" y="168.2" textLength="21.3" lengthAdjust="spacingAndGlyphs">7.20</text>
<text x="974.5" y="196.7" textLength="21.3" lengthAdjust="spacingAndGlyphs">7.00</text>
<text x="974.5" y="225.2" textLength="21.3" lengthAdjust="spacingAndGlyphs">6.80</text>
<text x="974.5" y="253.8" textLength="21.3" lengthAdjust="spacingAndGlyphs">6.60</text>
<text x="974.5" y="282.3" textLength="21.3" lengthAdjust="spacingAndGlyphs">6.40</text>
<text x="974.5" y="310.9" textLength="21.3" lengthAdjust="spacingAndGlyphs">6.20</text>
<text x="974.5" y="339.4" textLength="21.3" lengthAdjust="spacingAndGlyphs">6.00</text>
<text x="974.5" y="367.9" textLength="21.3" lengthAdjust="spacingAndGlyphs">5.80</text>
<text x="974.5" y="396.5" textLength="21.3" lengthAdjust="spacingAndGlyphs">5.60</text>
<text x="974.5" y="425.0" textLength="21.3" lengthAdjust="spacingAndGlyphs">5.40</text>
<text x="974.5" y="453.6" textLength="21.3" lengthAdjust="spacingAndGlyphs">5.20</text>
<text x="974.5" y="482.1" textLength="21.3" lengthAdjust="spacingAndGlyphs">5.00</text>
<text x="974.5" y="510.6" textLength="21.3" lengthAdjust="spacingAndGlyphs">4.80</text>
<text x="974.5" y="539.2" textLength="21.3" lengthAdjust="spacingAndGlyphs">4.60</text>
<text x="974.5" y="567.7" textLength="21.3" lengthAdjust="spacingAndGlyphs">4.40</text>
<text x="974.5" y="596.3" textLength="21.3" lengthAdjust="spacingAndGlyphs">4.20</text></g>
<!-- price label boxes -->
<path d="M966.9,551.2 H999 a2,2 0 0 1 2,2 V564.8 a2,2 0 0 1 -2,2 H966.9 Z" fill="#089981"/>
<text x="974.8" y="563.1" font-size="10.6" fill="#fff" stroke="#fff" stroke-width="0.2">4.43</text>
<path d="M966.9,579.6 H1008.3 a2,2 0 0 1 2,2 V592.7 a2,2 0 0 1 -2,2 H966.9 Z" fill="#22a393"/>
<text x="975.9" y="591.1" font-size="10.6" fill="#fff" stroke="#fff" stroke-width="0.2" textLength="30.5" lengthAdjust="spacingAndGlyphs">1.46 M</text>
<!-- time axis -->
<g font-size="10.6" fill="#2a2e39" stroke="#2a2e39" stroke-width="0.15" text-anchor="middle">
<text x="212.9" y="631.6">Nov</text>
<text x="418.4" y="631.6">Dec</text>
<text x="657.7" y="631.6" font-weight="bold">2026</text>
<text x="880.4" y="631.6">Feb</text>
</g>
<!-- earnings badge -->
<path d="M383,597.8 L391.1,592.9 L399.3,597.8 L399.3,608.3 Q399.3,610 397.6,610 L384.7,610 Q383,610 383,608.3 Z" fill="#fff" stroke="#fff" stroke-width="3.6" stroke-linejoin="round"/>
<path d="M383,597.8 L391.1,592.9 L399.3,597.8 L399.3,608.3 Q399.3,610 397.6,610 L384.7,610 Q383,610 383,608.3 Z" fill="#fff" stroke="#089981" stroke-width="1.4" stroke-linejoin="round"/>
<text x="388.4" y="605.8" font-size="10.4" font-weight="bold" fill="#089981" textLength="5.9" lengthAdjust="spacingAndGlyphs">E</text>
<!-- lightning badge -->
<circle cx="907.9" cy="602" r="10.6" fill="#fff"/>
<path d="M 910.75,593.45 A 9,9 0 1 0 916.47,599.26" fill="none" stroke="#9c27b0" stroke-width="1.35"/>
<polygon points="910.9,596.6 903.7,602.5 907.9,602.5 904.6,607.5 912.3,600.9 908.1,600.9" fill="#9c27b0" stroke="#9c27b0" stroke-width="0.5" stroke-linejoin="round"/>
<circle cx="914.2" cy="595.7" r="2.45" fill="#f23645"/>
<!-- TV logo -->
<g transform="translate(11.6,657.86) scale(0.762)" fill="#0f0f0f">
<path d="M14 21.7H7V11H0V4h14v17.7z"/>
<path d="M26.7 4H35.6L30.3 21.7H21.1Z"/>
<circle cx="20.7" cy="7.1" r="3.2"/>
</g>
<text x="46.1" y="674.4" font-size="18.5" font-weight="bold" fill="#0f0f0f" textLength="111.3" lengthAdjust="spacingAndGlyphs">TradingView</text>
<g font-size="10.6" stroke-width="0.15">
<text x="17.0" y="43.7" fill="#2a2e39" stroke="#2a2e39" textLength="17.3" lengthAdjust="spacingAndGlyphs">NIO</text>
<text x="38.4" y="43.7" fill="#2a2e39" stroke="#2a2e39" textLength="18.1" lengthAdjust="spacingAndGlyphs">Inc.</text>
<text x="60.1" y="43.7" fill="#2a2e39" stroke="#2a2e39" textLength="50.8" lengthAdjust="spacingAndGlyphs">Sponsored</text>
<text x="113.6" y="43.7" fill="#2a2e39" stroke="#2a2e39" textLength="21.0" lengthAdjust="spacingAndGlyphs">ADR</text>
<text x="137.6" y="43.7" fill="#2a2e39" stroke="#2a2e39" textLength="24.7" lengthAdjust="spacingAndGlyphs">Class</text>
<text x="165.0" y="43.7" fill="#2a2e39" stroke="#2a2e39">A</text>
<text x="182.7" y="43.7" fill="#2a2e39" stroke="#2a2e39" textLength="12.0" lengthAdjust="spacingAndGlyphs">4h</text>
<text x="205.6" y="43.7" fill="#2a2e39" stroke="#2a2e39" textLength="24.8" lengthAdjust="spacingAndGlyphs">NYSE</text>
<text x="237.4" y="43.7" fill="#2a2e39" stroke="#2a2e39">O</text>
<text x="244.2" y="43.7" fill="#089981" stroke="#089981" textLength="21.4" lengthAdjust="spacingAndGlyphs">4.41</text>
<text x="272.8" y="43.7" fill="#2a2e39" stroke="#2a2e39">H</text>
<text x="279.7" y="43.7" fill="#089981" stroke="#089981" textLength="22.5" lengthAdjust="spacingAndGlyphs">4.46</text>
<text x="308.8" y="43.7" fill="#2a2e39" stroke="#2a2e39">L</text>
<text x="314.1" y="43.7" fill="#089981" stroke="#089981" textLength="21.9" lengthAdjust="spacingAndGlyphs">4.39</text>
<text x="342.1" y="43.7" fill="#2a2e39" stroke="#2a2e39">C</text>
<text x="348.6" y="43.7" fill="#089981" stroke="#089981" textLength="21.8" lengthAdjust="spacingAndGlyphs">4.43</text>
<text x="377.3" y="43.7" fill="#089981" stroke="#089981" textLength="26.8" lengthAdjust="spacingAndGlyphs">+0.01</text>
<text x="407.8" y="43.7" fill="#089981" stroke="#089981" textLength="43.0" lengthAdjust="spacingAndGlyphs">(+0.34%)</text>
<text x="177.6" y="43.7" fill="#2a2e39" stroke="#2a2e39" text-anchor="middle">·</text>
<text x="200.0" y="43.7" fill="#2a2e39" stroke="#2a2e39" text-anchor="middle">·</text>
<text x="17.1" y="58.8" fill="#2a2e39" stroke="#2a2e39" textLength="15.2" lengthAdjust="spacingAndGlyphs">Vol</text>
<text x="39.2" y="58.8" fill="#089981" stroke="#089981" textLength="20.5" lengthAdjust="spacingAndGlyphs">1.46</text>
<text x="61.5" y="58.8" fill="#089981" stroke="#089981">M</text>
</g>
</svg>
</body></html>
